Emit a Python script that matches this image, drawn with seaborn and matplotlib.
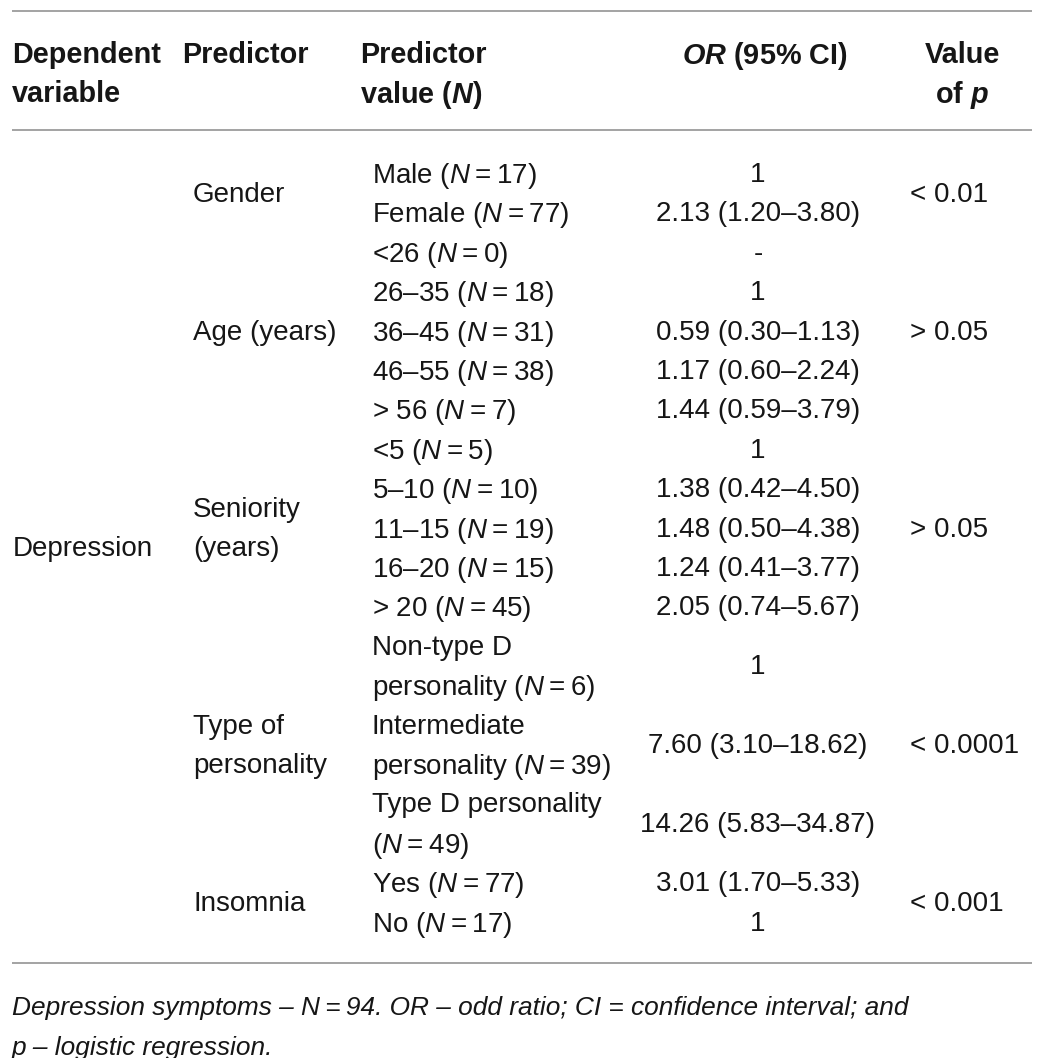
import matplotlib
matplotlib.use("Agg")
import matplotlib.pyplot as plt
import seaborn as sns

# ---------------- data ----------------
dependent_variable = "Depression"

predictors = ["Gender", "Age (years)", "Seniority\n(years)", "Type of\npersonality", "Insomnia"]

predictor_values = [
    ["Male ($N$\u2009=\u200917)", "Female ($N$\u2009=\u200977)"],
    ["<26 ($N$\u2009=\u20090)", "26\u201335 ($N$\u2009=\u200918)", "36\u201345 ($N$\u2009=\u200931)",
     "46\u201355 ($N$\u2009=\u200938)", "> 56 ($N$\u2009=\u20097)"],
    ["<5 ($N$\u2009=\u20095)", "5\u201310 ($N$\u2009=\u200910)", "11\u201315 ($N$\u2009=\u200919)",
     "16\u201320 ($N$\u2009=\u200915)", "> 20 ($N$\u2009=\u200945)"],
    ["Non-type D\npersonality ($N$\u2009=\u20096)", "Intermediate\npersonality ($N$\u2009=\u200939)",
     "Type D personality\n($N$\u2009=\u200949)"],
    ["Yes ($N$\u2009=\u200977)", "No ($N$\u2009=\u200917)"],
]

odds_ratios = [
    ["1", "2.13 (1.20\u20133.80)"],
    ["-", "1", "0.59 (0.30\u20131.13)", "1.17 (0.60\u20132.24)", "1.44 (0.59\u20133.79)"],
    ["1", "1.38 (0.42\u20134.50)", "1.48 (0.50\u20134.38)", "1.24 (0.41\u20133.77)", "2.05 (0.74\u20135.67)"],
    ["1", "7.60 (3.10\u201318.62)", "14.26 (5.83\u201334.87)"],
    ["3.01 (1.70\u20135.33)", "1"],
]

p_values = ["< 0.01", "> 0.05", "> 0.05", "< 0.0001", "< 0.001"]

headers = ["Dependent\nvariable", "Predictor", "Predictor\nvalue ($\\mathbfit{N}$)",
           "$\\mathbfit{OR}$ (95% CI)", "Value\nof $\\mathbfit{p}$"]

footnote = ("Depression symptoms \u2013 N\u2009=\u200994. OR \u2013 odd ratio; CI = confidence interval; and\n"
            "p \u2013 logistic regression.")

# ---------------- style ----------------
sns.set_theme(style="white")
FONT = "Liberation Sans"
plt.rcParams["font.family"] = [FONT, "DejaVu Sans"]
plt.rcParams["mathtext.fontset"] = "custom"
plt.rcParams["mathtext.rm"] = FONT
plt.rcParams["mathtext.it"] = FONT + ":italic"
plt.rcParams["mathtext.bf"] = FONT + ":bold"
plt.rcParams["mathtext.bfit"] = FONT + ":italic:bold"

W, H = 1039, 1058
fig = plt.figure(figsize=(W / 100, H / 100), dpi=100)
ax = fig.add_axes([0, 0, 1, 1])
ax.set_xlim(0, W)
ax.set_ylim(H, 0)
ax.axis("off")

TXT = "#161616"
LINE = "#8a8a8a"
FS = 20
HFS = 20.8
ROW0, STEP = 172, 39.4

def row_y(r):
    return ROW0 + r * STEP

# rules
for y in (11, 130, 963):
    ax.plot([12, 1032], [y, y], color=LINE, lw=1.1, solid_capstyle="butt")

# header
hx = [12, 182, 360]
header_y = 52
hkw = dict(fontsize=HFS, fontweight="bold", color=TXT, va="center_baseline")
for x, h in zip(hx, headers[:3]):
    for k, line in enumerate(h.split("\n")):
        ax.text(x, header_y + k * STEP, line, ha="left", **hkw)
ax.text(765, header_y, headers[3], ha="center", **hkw)
for k, line in enumerate(headers[4].split("\n")):
    ax.text(962, header_y + k * STEP, line, ha="center", **hkw)

# body
bkw = dict(fontsize=FS, color=TXT, va="center_baseline")
n_lines = [[len(v.split("\n")) for v in vals] for vals in predictor_values]
total = sum(sum(n) for n in n_lines)

ax.text(13, row_y((total - 1) / 2), dependent_variable, ha="left", **bkw)

r = 0
for pred, vals, ors, pv, nl in zip(predictors, predictor_values, odds_ratios, p_values, n_lines):
    start = r
    for v, o, n in zip(vals, ors, nl):
        for k, line in enumerate(v.split("\n")):
            ax.text(372, row_y(r + k), line, ha="left", **bkw)
        ax.text(758, row_y(r + (n - 1) / 2), o, ha="center", **bkw)
        r += n
    end = r - 1
    plines = pred.split("\n")
    mid = (start + end) / 2
    for k, line in enumerate(plines):
        ax.text(193, row_y(mid - (len(plines) - 1) / 2 + k), line, ha="left", **bkw)
    ax.text(910, row_y(mid), pv, ha="left", **bkw)

# footnote
for k, line in enumerate(footnote.split("\n")):
    ax.text(12, 1005 + k * 40, line, ha="left", fontsize=18.9, style="italic",
            color=TXT, va="center_baseline")

fig.savefig("out.png", dpi=100, facecolor="white")
